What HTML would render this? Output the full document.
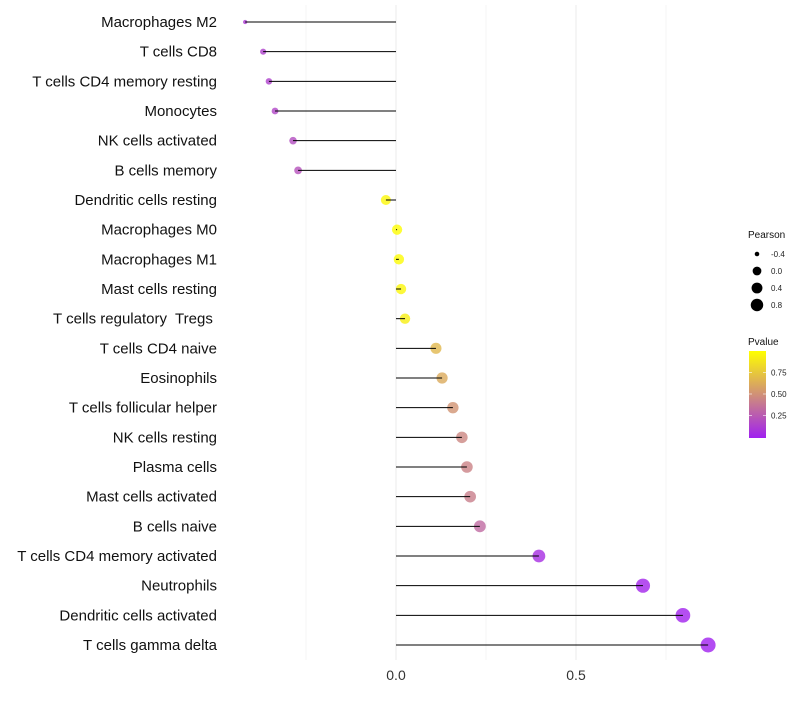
<!DOCTYPE html>
<html><head><meta charset="utf-8"><style>
body{margin:0;background:#fff;font-family:"Liberation Sans",sans-serif}
text{white-space:pre}
</style></head><body>
<svg id="chart" width="800" height="700" xmlns="http://www.w3.org/2000/svg"></svg>
<script>
const categories=["Macrophages M2","T cells CD8","T cells CD4 memory resting","Monocytes","NK cells activated","B cells memory","Dendritic cells resting","Macrophages M0","Macrophages M1","Mast cells resting","T cells regulatory  Tregs ","T cells CD4 naive","Eosinophils","T cells follicular helper","NK cells resting","Plasma cells","Mast cells activated","B cells naive","T cells CD4 memory activated","Neutrophils","Dendritic cells activated","T cells gamma delta"];
const pearson=[-0.419,-0.369,-0.353,-0.336,-0.286,-0.272,-0.028,0.003,0.008,0.014,0.025,0.111,0.128,0.158,0.183,0.197,0.206,0.233,0.397,0.686,0.797,0.867];
const pvalues=[0.12,0.15,0.15,0.17,0.2,0.22,0.97,0.99,0.98,0.96,0.93,0.68,0.62,0.52,0.46,0.44,0.42,0.33,0.06,0.02,0.01,0.005];
const xTicks=[0,0.5];
const sizeTicks=[-0.4,0,0.4,0.8];
const colorTicks=[0.25,0.5,0.75];
const NS="http://www.w3.org/2000/svg";
const svg=document.getElementById('chart');
const xs=v=>396+v*360;
const ys=i=>22+i*29.667;
const rs=v=>2+5.5*Math.sqrt(Math.max(0,(v+0.42)/1.29));
function col(p){const a=[160,32,240],b=[255,255,0];return `rgb(${a.map((c,k)=>Math.round(c+(b[k]-c)*p)).join(',')})`;}
function mk(t,attrs,parent){const e=document.createElementNS(NS,t);for(const k in attrs)e.setAttribute(k,attrs[k]);(parent||svg).appendChild(e);return e;}
[-0.25,0.25,0.75].forEach(v=>{const g=mk('line',{x1:xs(v),x2:xs(v),y1:5,y2:660,stroke:'#f0f0f0','stroke-width':0.6});

});
xTicks.forEach(v=>{const g=mk('line',{x1:xs(v),x2:xs(v),y1:5,y2:660,stroke:'#ebebeb','stroke-width':1});


const t=mk('text',{x:xs(v),y:680,'text-anchor':'middle','font-size':14,fill:'#333'});t.textContent=v===0?'0.0':String(v);

});
categories.forEach((c,i)=>{const y=ys(i);
const t=mk('text',{x:217,y:y+5,'text-anchor':'end','font-size':15,fill:'#111'});t.textContent=c;


const d=mk('circle',{cx:xs(pearson[i]),cy:y,r:rs(pearson[i]),fill:col(pvalues[i]),'fill-opacity':0.8});


const l=mk('line',{x1:xs(0),x2:xs(pearson[i]),y1:y,y2:y,stroke:'#000','stroke-width':1});

});
const lt=mk('text',{x:748,y:238,'font-size':10,fill:'#111'});lt.textContent='Pearson';


sizeTicks.forEach((v,i)=>{const y=254+i*17;
const c=mk('circle',{cx:757,cy:y,r:rs(v)*0.85,fill:'#000'});


const t=mk('text',{x:771,y:y+3,'font-size':8,fill:'#222'});t.textContent=v.toFixed(1);

});
const pt=mk('text',{x:748,y:345,'font-size':10,fill:'#111'});pt.textContent='Pvalue';


const defs=mk('defs',{});const gr=mk('linearGradient',{id:'pg',x1:0,y1:1,x2:0,y2:0},defs);
[0,0.25,0.5,0.75,1].forEach(o=>mk('stop',{offset:o,'stop-color':col(o)},gr));
const bar=mk('rect',{x:749,y:351,width:17,height:87,fill:'url(#pg)'});


colorTicks.forEach(v=>{const y=437-v*86;
mk('line',{x1:749,x2:752,y1:y,y2:y,stroke:'#fff','stroke-width':0.6});
mk('line',{x1:763,x2:766,y1:y,y2:y,stroke:'#fff','stroke-width':0.6});
const t=mk('text',{x:771,y:y+3,'font-size':8,fill:'#222'});t.textContent=v.toFixed(2);

});
</script></body></html>
